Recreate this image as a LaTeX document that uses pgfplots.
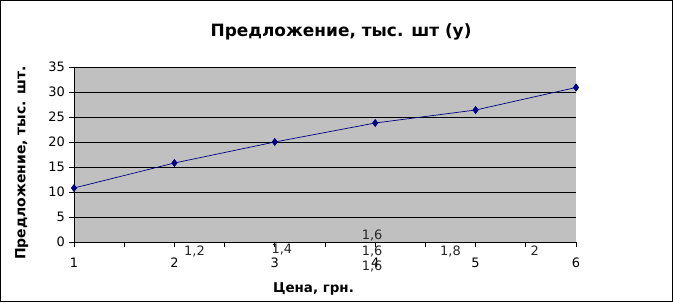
\documentclass[border=0pt]{standalone}
\usepackage{pgfplots}
\pgfplotsset{compat=1.18}
\usepackage{fontspec}
\setmainfont{DejaVu Sans}
\definecolor{navy}{RGB}{0,0,128}
\definecolor{plotgray}{RGB}{192,192,192}
\begin{document}
\begin{tikzpicture}[x=1bp,y=1bp]
\draw[line width=1bp,use as bounding box] (-73.5,-59.5) rectangle (598.5,241.5);
\begin{axis}[
  at={(0,0)}, anchor=south west,
  width=502bp, height=175bp, scale only axis,
  xmin=1, xmax=6, ymin=0, ymax=35,
  xtick={1,2,3,4,5,6},
  minor xtick={1.5,2.5,3.5,4.5,5.5},
  ytick={0,5,...,35},
  axis x line=bottom, axis y line=left,
  axis line style={-, black, line width=0.8bp},
  tick style={black, line width=0.8bp},
  major tick length=5bp, minor tick length=5bp,
  tick align=outside,
  xtick pos=bottom, ytick pos=left,
  ymajorgrids, grid style={black, line width=0.8bp},
  axis background/.style={fill=plotgray},
  /pgf/number format/assume math mode=true,
  tick label style={font=\fontsize{13}{15}\selectfont},
  xticklabel style={yshift=-7.5bp},
  yticklabel style={xshift=-0.5bp},
  clip=false,
  title={\textbf{Предложение, тыс. шт (у)}},
  title style={font=\fontsize{17}{20}\selectfont, at={(axis description cs:0.532,1)}, anchor=center, yshift=29bp},
  xlabel={\textbf{Цена, грн.}},
  xlabel style={font=\fontsize{13.5}{16}\selectfont, at={(axis description cs:0.477,0)}, anchor=center, yshift=-47bp},
  ylabel={\textbf{Предложение, тыс. шт.}},
  ylabel style={font=\fontsize{14}{16}\selectfont, at={(axis description cs:-0.104,0.451)}, anchor=center},
]
\addplot[navy, line width=0.7bp, mark=diamond*, mark size=3.5bp, mark options={fill=navy, draw=navy}]
  coordinates {(1,10.8) (2,15.8) (3,20.0) (4,23.8) (5,26.4) (6,30.9)};
\begin{scope}[font=\fontsize{13}{15}\selectfont, color=black!85]
\node at (axis cs:2.2,-1.8) {1,2};
\node at (axis cs:3.07,-1.6) {1,4};
\node at (axis cs:3.97,1.4) {1,6};
\node at (axis cs:3.97,-1.8) {1,6};
\node at (axis cs:3.97,-4.8) {1,6};
\node at (axis cs:4.75,-1.8) {1,8};
\node at (axis cs:5.59,-1.8) {2};
\end{scope}
\end{axis}
\end{tikzpicture}
\end{document}
